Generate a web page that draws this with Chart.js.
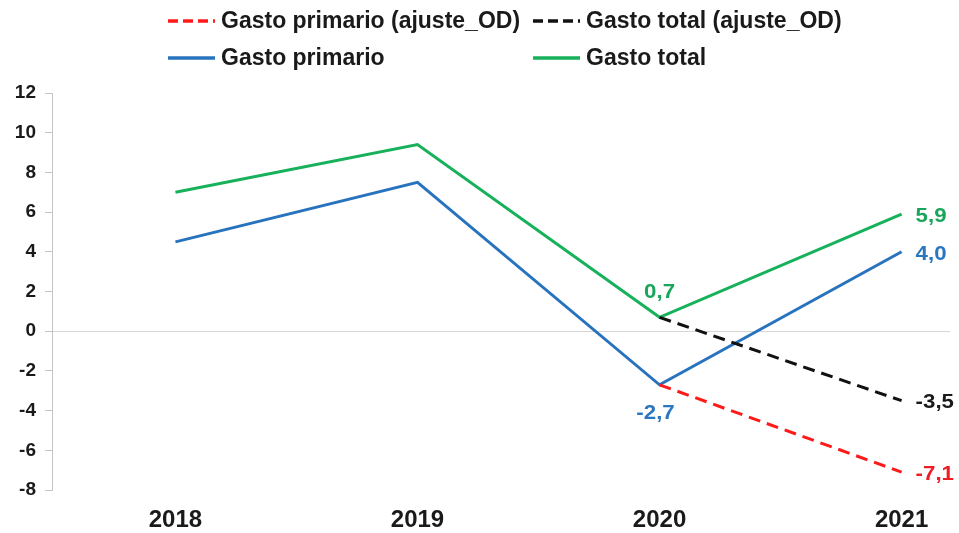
<!DOCTYPE html>
<html lang="es">
<head>
<meta charset="utf-8">
<script src="https://cdn.jsdelivr.net/npm/chart.js@4/dist/chart.umd.min.js"></script>
<style>
  html, body { margin: 0; padding: 0; background: #ffffff; }
  #wrap { position: relative; width: 959px; height: 533px; }
</style>
</head>
<body>
<div id="wrap"><canvas id="chart"></canvas></div>
<script>
// Years on the horizontal axis
const years = [2018, 2019, 2020, 2021];

// Growth rates (%) by series; null where a series has no value
const gastoPrimario        = [4.5, 7.5, -2.7, 4.0];
const gastoTotal           = [7.0, 9.4, 0.7, 5.9];
const gastoPrimarioAjuste  = [null, null, -2.7, -7.1];
const gastoTotalAjuste     = [null, null, 0.7, -3.5];

// Vertical axis tick values
const yTicks = [-8, -6, -4, -2, 0, 2, 4, 6, 8, 10, 12];

const FONT = "'Liberation Sans', Arial, Helvetica, sans-serif";
const COLORS = {
  red: '#ff1a1a',
  black: '#111111',
  blue: '#2873bd',
  green: '#16b15a'
};

const toPoints = arr => years.map((yr, i) => ({ x: yr, y: arr[i] }));
const fmt = v => v.toFixed(1).replace('.', ',');

const datasets = [
  { label: 'Gasto primario (ajuste_OD)', data: toPoints(gastoPrimarioAjuste),
    borderColor: COLORS.red, borderDash: [12, 7], labelColor: '#ee1c25',
    valueLabels: [{ i: 3, pos: 'right' }] },
  { label: 'Gasto total (ajuste_OD)', data: toPoints(gastoTotalAjuste),
    borderColor: COLORS.black, borderDash: [12, 7], labelColor: '#1a1a1a',
    valueLabels: [{ i: 3, pos: 'right' }] },
  { label: 'Gasto primario', data: toPoints(gastoPrimario),
    borderColor: COLORS.blue, labelColor: '#2a77c0',
    valueLabels: [{ i: 2, pos: 'below' }, { i: 3, pos: 'right' }] },
  { label: 'Gasto total', data: toPoints(gastoTotal),
    borderColor: COLORS.green, labelColor: '#1aa55a',
    valueLabels: [{ i: 2, pos: 'above' }, { i: 3, pos: 'right' }] }
].map(ds => Object.assign({
  borderWidth: 3,
  pointRadius: 0,
  pointHoverRadius: 0,
  tension: 0,
  fill: false,
  spanGaps: false,
  borderCapStyle: 'butt',
  borderJoinStyle: 'miter'
}, ds));

// Legend laid out as a 2x2 grid above the plot
const legendGrid = {
  id: 'legendGrid',
  afterDraw(chart) {
    const ctx = chart.ctx;
    const cols = [168, 533];
    const rows = [21, 58];
    ctx.save();
    ctx.font = `bold 23px ${FONT}`;
    ctx.textBaseline = 'middle';
    ctx.textAlign = 'left';
    chart.data.datasets.forEach((ds, k) => {
      const x = cols[k % 2];
      const y = rows[Math.floor(k / 2)];
      ctx.beginPath();
      ctx.strokeStyle = ds.borderColor;
      ctx.lineWidth = 3.5;
      ctx.setLineDash(ds.borderDash ? [10, 5] : []);
      ctx.moveTo(x, y);
      ctx.lineTo(x + 47, y);
      ctx.stroke();
      ctx.setLineDash([]);
      ctx.fillStyle = '#1a1a1a';
      ctx.fillText(ds.label, x + 53, y + 1);
    });
    ctx.restore();
  }
};

// Value labels next to selected points
const valueLabels = {
  id: 'valueLabels',
  afterDatasetsDraw(chart) {
    const ctx = chart.ctx;
    ctx.save();
    ctx.font = `bold 21px ${FONT}`;
    ctx.textBaseline = 'middle';
    chart.data.datasets.forEach((ds, di) => {
      const meta = chart.getDatasetMeta(di);
      (ds.valueLabels || []).forEach(spec => {
        const el = meta.data[spec.i];
        const v = ds.data[spec.i].y;
        if (!el || v === null) return;
        let x = el.x, y = el.y;
        if (spec.pos === 'right') { ctx.textAlign = 'left'; x += 14; y += 2; }
        else if (spec.pos === 'above') { ctx.textAlign = 'center'; y -= 25; }
        else { ctx.textAlign = 'center'; x -= 4; y += 28; }
        ctx.fillStyle = ds.labelColor;
        ctx.save();
        ctx.translate(x, y);
        ctx.scale(1.06, 1);
        ctx.fillText(fmt(v), 0, 0);
        ctx.restore();
      });
    });
    ctx.restore();
  }
};

new Chart(document.getElementById('chart'), {
  type: 'line',
  data: { datasets },
  options: {
    responsive: true,
    maintainAspectRatio: false,
    animation: false,
    events: [],
    layout: { padding: { top: 93, right: 9, bottom: 0, left: 0 } },
    plugins: {
      legend: { display: false },
      tooltip: { enabled: false },
      title: { display: false }
    },
    scales: {
      x: {
        type: 'linear',
        min: 2017.49,
        max: 2021.2,
        afterBuildTicks: scale => { scale.ticks = years.map(v => ({ value: v })); },
        afterFit: scale => { scale.height = 43; },
        grid: { display: false, drawTicks: false },
        border: { display: false },
        ticks: {
          padding: 16,
          color: '#1a1a1a',
          font: { family: FONT, size: 24, weight: 'bold' },
          callback: v => String(v),
          maxRotation: 0,
          autoSkip: false
        }
      },
      y: {
        min: -8,
        max: 12,
        afterBuildTicks: scale => { scale.ticks = yTicks.map(v => ({ value: v })); },
        afterFit: scale => { scale.width = 52; },
        grid: {
          drawOnChartArea: true,
          drawTicks: true,
          tickLength: 7,
          lineWidth: 1,
          color: c => (c.tick && c.tick.value === 0 ? '#d6d6d6' : 'rgba(0,0,0,0)'),
          tickColor: '#c4c4c4'
        },
        border: { display: true, color: '#c4c4c4', width: 1 },
        ticks: {
          padding: 9,
          color: '#1a1a1a',
          font: { family: FONT, size: 19, weight: 'bold' },
          callback: v => String(v)
        }
      }
    }
  },
  plugins: [legendGrid, valueLabels]
});
</script>
</body>
</html>
